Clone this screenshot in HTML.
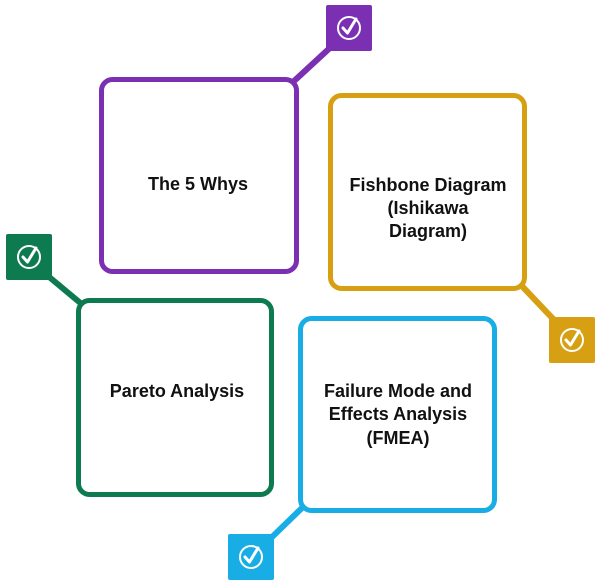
<!DOCTYPE html>
<html><head><meta charset="utf-8"><style>
html,body{margin:0;padding:0;background:#fff;}
svg{display:block}
text{font-family:"Liberation Sans",Arial,sans-serif;font-weight:bold;font-size:18px;fill:#111;text-anchor:middle}
</style></head><body>
<svg width="600" height="580" viewBox="0 0 600 580" xmlns="http://www.w3.org/2000/svg">
<defs>
<g id="chk">
<circle cx="0" cy="0" r="11" fill="none" stroke="#fff" stroke-width="2"/>
<path d="M-6,0 L-1.5,5 L7,-9" fill="none" stroke="#fff" stroke-width="3" stroke-linecap="round" stroke-linejoin="round"/>
</g>
</defs>
<line x1="332" y1="46" x2="293" y2="82" stroke="#7b2fb3" stroke-width="6"/>
<rect x="101.5" y="79.5" width="195" height="192" rx="11" fill="#fff" stroke="#7b2fb3" stroke-width="5"/>
<rect x="326" y="5" width="46" height="46" rx="2" fill="#7b2fb3"/>
<use href="#chk" x="349" y="28"/>
<text x="198" y="190">The 5 Whys</text>
<line x1="520" y1="284" x2="556" y2="322" stroke="#d6a012" stroke-width="6"/>
<rect x="330.5" y="95.5" width="194" height="193" rx="11" fill="#fff" stroke="#d6a012" stroke-width="5"/>
<rect x="549" y="317" width="46" height="46" rx="2" fill="#d6a012"/>
<use href="#chk" x="572" y="340"/>
<text x="428" y="191">Fishbone Diagram</text>
<text x="428" y="214">(Ishikawa</text>
<text x="428" y="237">Diagram)</text>
<line x1="48" y1="276" x2="84" y2="306" stroke="#0e7a4f" stroke-width="6"/>
<rect x="78.5" y="300.5" width="193" height="194" rx="11" fill="#fff" stroke="#0e7a4f" stroke-width="5"/>
<rect x="6" y="234" width="46" height="46" rx="2" fill="#0e7a4f"/>
<use href="#chk" x="29" y="257"/>
<text x="177" y="397">Pareto Analysis</text>
<line x1="270" y1="539" x2="305" y2="505" stroke="#19ade6" stroke-width="6"/>
<rect x="300.5" y="318.5" width="194" height="192" rx="11" fill="#fff" stroke="#19ade6" stroke-width="5"/>
<rect x="228" y="534" width="46" height="46" rx="2" fill="#19ade6"/>
<use href="#chk" x="251" y="557"/>
<text x="398" y="397">Failure Mode and</text>
<text x="398" y="420">Effects Analysis</text>
<text x="398" y="444">(FMEA)</text>
</svg>
</body></html>
